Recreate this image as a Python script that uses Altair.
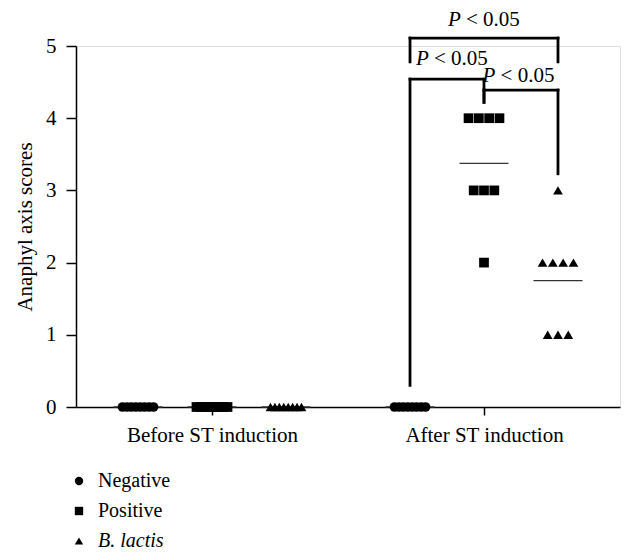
import altair as alt
import pandas as pd

# ---------------- data ----------------
phases = ["Before ST induction", "After ST induction"]
groups = ["Negative", "Positive", "B. lactis"]
shapes = ["circle", "square", "triangle-up"]

before_negative = [0, 0, 0, 0, 0, 0, 0, 0]
before_positive = [0, 0, 0, 0, 0, 0, 0, 0]
before_blactis = [0, 0, 0, 0, 0, 0, 0, 0]
after_negative = [0, 0, 0, 0, 0, 0, 0, 0]
after_positive = [4, 4, 4, 4, 3, 3, 3, 2]
after_blactis = [3, 2, 2, 2, 2, 1, 1, 1]

scores = [
    [before_negative, before_positive, before_blactis],
    [after_negative, after_positive, after_blactis],
]

# significance comparisons (after ST induction)
comp_left = ["Negative", "Negative", "Positive"]
comp_right = ["B. lactis", "Positive", "B. lactis"]
comp_top = [5.11, 4.54, 4.39]
comp_left_drop = [4.78, 0.30, 4.22]
comp_right_drop = [4.78, 4.22, 3.23]
comp_label_x = [2.0, 1.882, 2.127]
comp_label_y = [5.28, 4.74, 4.50]
comp_label_p = ["P", "P", "P"]
comp_label_rest = ["< 0.05", "< 0.05", "< 0.05"]

# ---------------- layout helpers ----------------
group_offset = {"Negative": -0.272, "Positive": 0.0, "B. lactis": 0.272}
spacing = 10.3 / 272.0
max_spread = 31.0 / 272.0
half_mean = 0.09

rows = []
means = []
for pi, phase in enumerate(phases):
    for gi, g in enumerate(groups):
        vals = scores[pi][gi]
        center = pi + 1 + group_offset[g]
        counts = {}
        for v in vals:
            counts[v] = counts.get(v, 0) + 1
        seen = {}
        for v in vals:
            n = counts[v]
            k = seen.get(v, 0)
            seen[v] = k + 1
            sp = spacing if n <= 1 else min(spacing, max_spread / (n - 1))
            rows.append({"x": center + (k - (n - 1) / 2.0) * sp, "score": v,
                         "group": g, "phase": phase})
        means.append({"x": center - half_mean, "x2": center + half_mean,
                      "mean": sum(vals) / len(vals)})

pts = pd.DataFrame(rows)
mean_df = pd.DataFrame(means)

seg = []
lab = []
for i in range(len(comp_left)):
    xl = 2 + group_offset[comp_left[i]]
    xr = 2 + group_offset[comp_right[i]]
    seg.append({"x": xl, "x2": xr, "y": comp_top[i], "y2": comp_top[i]})
    seg.append({"x": xl, "x2": xl, "y": comp_left_drop[i], "y2": comp_top[i]})
    seg.append({"x": xr, "x2": xr, "y": comp_right_drop[i], "y2": comp_top[i]})
    lab.append({"x": comp_label_x[i], "y": comp_label_y[i],
                "p": comp_label_p[i], "rest": comp_label_rest[i]})
seg_df = pd.DataFrame(seg)
lab_df = pd.DataFrame(lab)

FONT = "Liberation Serif"
xscale = alt.Scale(domain=[0.5, 2.5], nice=False, zero=False)
yscale = alt.Scale(domain=[0, 5], nice=False)

label_expr = "datum.value == 1 ? '%s' : (datum.value == 2 ? '%s' : '')" % (phases[0], phases[1])

points = alt.Chart(pts).mark_point(filled=True, size=95, opacity=1, color="black").encode(
    x=alt.X("x:Q", scale=xscale,
            axis=alt.Axis(values=[1, 2], labelExpr=label_expr, title=None, grid=False,
                          tickSize=8, tickWidth=1.5, domainWidth=1.5, labelPadding=9,
                          labelFontSize=21, labelFont=FONT, labelColor="black",
                          domainColor="black", tickColor="black")),
    y=alt.Y("score:Q", scale=yscale,
            axis=alt.Axis(values=[0, 1, 2, 3, 4, 5], format="d", title="Anaphyl axis scores",
                          grid=False, tickSize=10, tickWidth=1.5, domainWidth=1.5,
                          labelPadding=10, labelFontSize=21, labelFont=FONT,
                          labelColor="black", titleFont=FONT, titleFontSize=21,
                          titleFontWeight="normal", titleColor="black", titlePadding=10,
                          domainColor="black", tickColor="black")),
    shape=alt.Shape("group:N", scale=alt.Scale(domain=groups, range=shapes),
                    legend=alt.Legend(orient="none", legendX=-7, legendY=425, title=None,
                                      labelFont=FONT, labelFontSize=20, labelColor="black",
                                      labelFontStyle=alt.ExprRef("datum.label == 'B. lactis' ? 'italic' : 'normal'"),
                                      symbolSize=70, symbolFillColor="black",
                                      symbolStrokeWidth=0, rowPadding=10, labelOffset=9,
                                      padding=0)),
)

mean_rules = alt.Chart(mean_df).mark_rule(color="#333333", strokeWidth=1.3).encode(
    x=alt.X("x:Q", scale=xscale), x2="x2:Q",
    y=alt.Y("mean:Q", scale=yscale),
)

brackets = alt.Chart(seg_df).mark_rule(color="black", strokeWidth=2.8, strokeCap="square").encode(
    x=alt.X("x:Q", scale=xscale), x2="x2:Q",
    y=alt.Y("y:Q", scale=yscale), y2="y2:Q",
)

p_text = alt.Chart(lab_df).mark_text(font=FONT, fontSize=21, fontStyle="italic",
                                     align="left", baseline="alphabetic", dx=-36,
                                     color="black").encode(
    x=alt.X("x:Q", scale=xscale), y=alt.Y("y:Q", scale=yscale), text="p:N")

rest_text = alt.Chart(lab_df).mark_text(font=FONT, fontSize=21, align="left",
                                        baseline="alphabetic", dx=-18,
                                        color="black").encode(
    x=alt.X("x:Q", scale=xscale), y=alt.Y("y:Q", scale=yscale), text="rest:N")

chart = alt.layer(mean_rules, points, brackets, p_text, rest_text).properties(
    width=544, height=361,
    autosize=alt.AutoSizeParams(type="none"),
    padding={"left": 68, "top": 38, "right": 6, "bottom": 144},
    background="white",
).configure_view(stroke=None).configure(font=FONT)

chart.save("out.html", embed_options={"renderer": "svg", "actions": False})
